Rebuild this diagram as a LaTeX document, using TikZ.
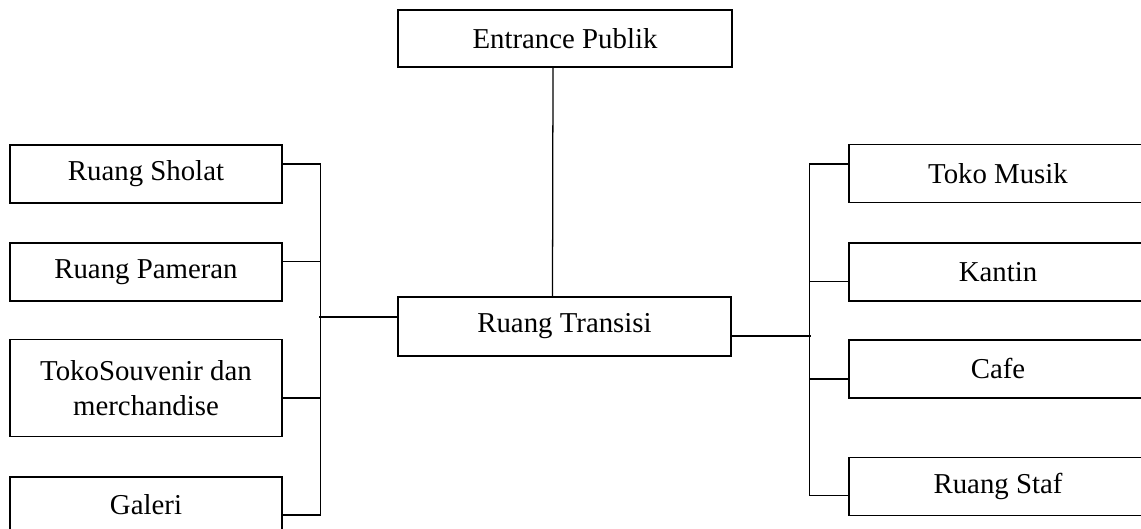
\documentclass[tikz,border=0pt]{standalone}
\usepackage{fontspec}
\setmainfont{Liberation Serif}
\usetikzlibrary{positioning}

\begin{document}
\begin{tikzpicture}[
    room/.style={rectangle, draw=black, line width=1.2pt, fill=white, minimum width=6.8cm, minimum height=1.45cm, align=center, inner sep=0pt, font=\fontsize{20.5}{25}\selectfont},
    wide/.style={room, minimum width=7.45cm},
    link/.style={draw=black, line width=0.9pt}
]
    \useasboundingbox (0,0) rectangle (28.525,-13.225);

    \node[room, minimum width=8.35cm, minimum height=1.425cm] (entrance) at (14.125,-0.9625) {Entrance Publik};
    \node[room, minimum width=8.325cm, minimum height=1.475cm] (transisi) at (14.1125,-8.1625) {Ruang Transisi};

    \node[room] (sholat) at (3.65,-4.35) {Ruang Sholat};
    \node[room, below=0.95cm of sholat] (pameran) {Ruang Pameran};
    \node[room, below=0.925cm of pameran, minimum height=2.425cm] (souvenir) {TokoSouvenir dan\\merchandise};
    \node[room, below=0.975cm of souvenir, minimum height=1.4cm] (galeri) {Galeri};

    \node[wide] (musik) at (24.95,-4.3375) {Toko Musik};
    \node[wide, below=0.975cm of musik] (kantin) {Kantin};
    \node[wide, below=0.925cm of kantin] (cafe) {Cafe};
    \node[wide, below=1.45cm of cafe] (staf) {Ruang Staf};

    \draw[link] ([xshift=-0.3cm]entrance.south) -- ([xshift=-0.3cm]transisi.north);

    \draw[link] ([yshift=0.25cm]sholat.east) -- ++(0.95,0);
    \draw[link] ([yshift=0.25cm]pameran.east) -- ++(0.95,0);
    \draw[link] ([yshift=-0.25cm]souvenir.east) -- ++(0.95,0);
    \draw[link] ([yshift=-0.25cm]galeri.east) -- ++(0.95,0);
    \draw[link] ([xshift=0.95cm, yshift=0.25cm]sholat.east) -- ([xshift=0.95cm, yshift=-0.25cm]galeri.east);
    \draw[link] ([yshift=0.2375cm]transisi.west) -- ++(-1.95,0);

    \draw[link] ([yshift=0.2375cm]musik.west) -- ++(-0.975,0);
    \draw[link] ([yshift=-0.225cm]kantin.west) -- ++(-0.975,0);
    \draw[link] ([yshift=-0.25cm]cafe.west) -- ++(-0.975,0);
    \draw[link] ([yshift=-0.225cm]staf.west) -- ++(-0.975,0);
    \draw[link] ([xshift=-0.975cm, yshift=0.2375cm]musik.west) -- ([xshift=-0.975cm, yshift=-0.225cm]staf.west);
    \draw[link] ([yshift=-0.2375cm]transisi.east) -- ++(1.975,0);
\end{tikzpicture}
\end{document}
